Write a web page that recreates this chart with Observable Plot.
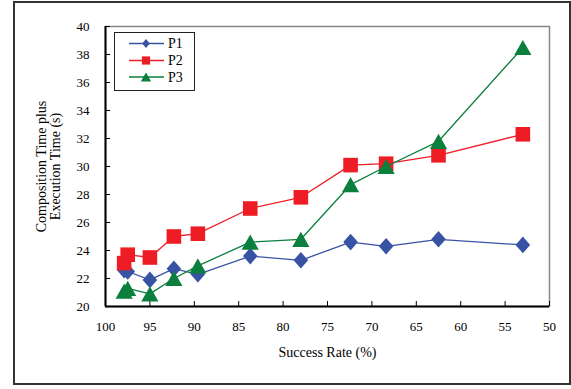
<!DOCTYPE html>
<html><head><meta charset="utf-8">
<script src="https://cdn.jsdelivr.net/npm/d3@7"></script>
<script src="https://cdn.jsdelivr.net/npm/@observablehq/plot@0.6"></script>
<style>
body{margin:0;background:#fff;}
#wrap{position:relative;width:571px;height:389px;font-family:"Liberation Serif","Times New Roman",serif;}
#outer{position:absolute;left:13px;top:1px;width:558px;height:384px;border:2px solid #333;box-sizing:border-box;pointer-events:none;}
#legend{position:absolute;left:114px;top:32px;width:81px;height:59px;border:1px solid #222;box-sizing:border-box;background:#fff;}
#legend svg{display:block;}
#chart svg text{font-family:"Liberation Serif","Times New Roman",serif;font-variant:normal;}
</style></head>
<body>
<div id="wrap"><div id="outer"></div><div id="chart"></div><div id="legend"></div></div>
<script>
const successRate = [97.9, 97.5, 95.0, 92.3, 89.6, 83.7, 78.0, 72.4, 68.4, 62.5, 53.0];
const p1 = [22.6, 22.5, 21.9, 22.7, 22.3, 23.6, 23.3, 24.6, 24.3, 24.8, 24.4];
const p2 = [23.1, 23.7, 23.5, 25.0, 25.2, 27.0, 27.8, 30.1, 30.2, 30.8, 32.3];
const p3 = [21.1, 21.3, 20.9, 22.0, 22.9, 24.6, 24.8, 28.7, 30.0, 31.8, 38.5];
const seriesNames = ["P1", "P2", "P3"];
const seriesColors = ["#3953A4", "#EE1D25", "#0B7F3D"];
const xTicks = [100, 95, 90, 85, 80, 75, 70, 65, 60, 55, 50];
const yTicks = [20, 22, 24, 26, 28, 30, 32, 34, 36, 38, 40];

const diamond = {draw(ctx, size){const r=Math.sqrt(size/Math.PI);ctx.moveTo(0,-r);ctx.lineTo(r*0.88,0);ctx.lineTo(0,r);ctx.lineTo(-r*0.88,0);ctx.closePath();}};
const square = {draw(ctx, size){const r=Math.sqrt(size/Math.PI);ctx.rect(-r,-r,2*r,2*r);}};
const triangle = {draw(ctx, size){const r=Math.sqrt(size/Math.PI);ctx.moveTo(0,-r);ctx.lineTo(1.13*r,r);ctx.lineTo(-1.13*r,r);ctx.closePath();}};
const symbols = [diamond, square, triangle];
const plotR = [8.3, 7.3, 7.6];
const legendR = [4.4, 4.1, 4.6];
const serif = '"Liberation Serif","Times New Roman",serif';

const values = [p1, p2, p3];
const marks = [
  Plot.frame({stroke: "#888", strokeWidth: 1.5}),
  Plot.ruleY([20], {stroke: "#000", strokeWidth: 2}),
  Plot.ruleX([100], {stroke: "#000", strokeWidth: 2}),
  Plot.axisX(xTicks, {tickSize: -5, fill: "none", label: null, stroke: "#000"}),
  Plot.axisY(yTicks, {tickSize: -5, fill: "none", label: null, stroke: "#000"}),
  Plot.axisX(xTicks, {tickSize: 0, tickPadding: 15, label: null, fontSize: 13, fontFamily: serif, fontVariant: "normal", fill: "#000"}),
  Plot.axisY(yTicks, {tickSize: 0, tickPadding: 16, label: null, fontSize: 13, fontFamily: serif, fontVariant: "normal", fill: "#000"}),
  Plot.axisX([], {tickSize: 0, label: "Success Rate (%)", labelArrow: "none", labelAnchor: "center", labelOffset: 50, fontSize: 14, fontFamily: serif, fill: "#000"}),
  Plot.axisY([], {tickSize: 0, label: "Composition Time plus\nExecution Time (s)", labelArrow: "none", labelAnchor: "center", labelOffset: 69, fontSize: 14, fontFamily: serif, fill: "#000"})
];
seriesNames.forEach((name, k) => {
  const rows = successRate.map((x, i) => ({x, y: values[k][i], s: name}));
  marks.push(Plot.line(rows, {x: "x", y: "y", stroke: seriesColors[k], strokeWidth: 1.3}));
  marks.push(Plot.dot(rows, {x: "x", y: "y", symbol: symbols[k], r: plotR[k], fill: seriesColors[k], stroke: "none"}));
});

const chart = Plot.plot({
  width: 571, height: 389,
  marginLeft: 105, marginRight: 22, marginTop: 26, marginBottom: 83,
  style: {fontFamily: serif, fontSize: "13px", color: "#000", background: "transparent"},
  x: {domain: [100, 50], label: null},
  y: {domain: [20, 40], label: null},
  marks
});
document.getElementById("chart").appendChild(chart);

// legend
const lg = d3.select("#legend").append("svg").attr("width", 79).attr("height", 57);
const rowY = [10.5, 27.5, 44];
seriesNames.forEach((name, k) => {
  const g = lg.append("g").attr("transform", `translate(0,${rowY[k]})`);
  g.append("line").attr("x1", 14).attr("x2", 49).attr("y1", 0).attr("y2", 0).attr("stroke", seriesColors[k]).attr("stroke-width", 1.3);
  g.append("path").attr("transform", "translate(31,0)").attr("d", d3.symbol(symbols[k], Math.PI * legendR[k] * legendR[k])()).attr("fill", seriesColors[k]);
  g.append("text").attr("x", 53).attr("y", 0).attr("dy", "0.35em").attr("font-size", 14).attr("font-family", serif).attr("fill", "#000").text(name);
});
</script>
</body></html>
